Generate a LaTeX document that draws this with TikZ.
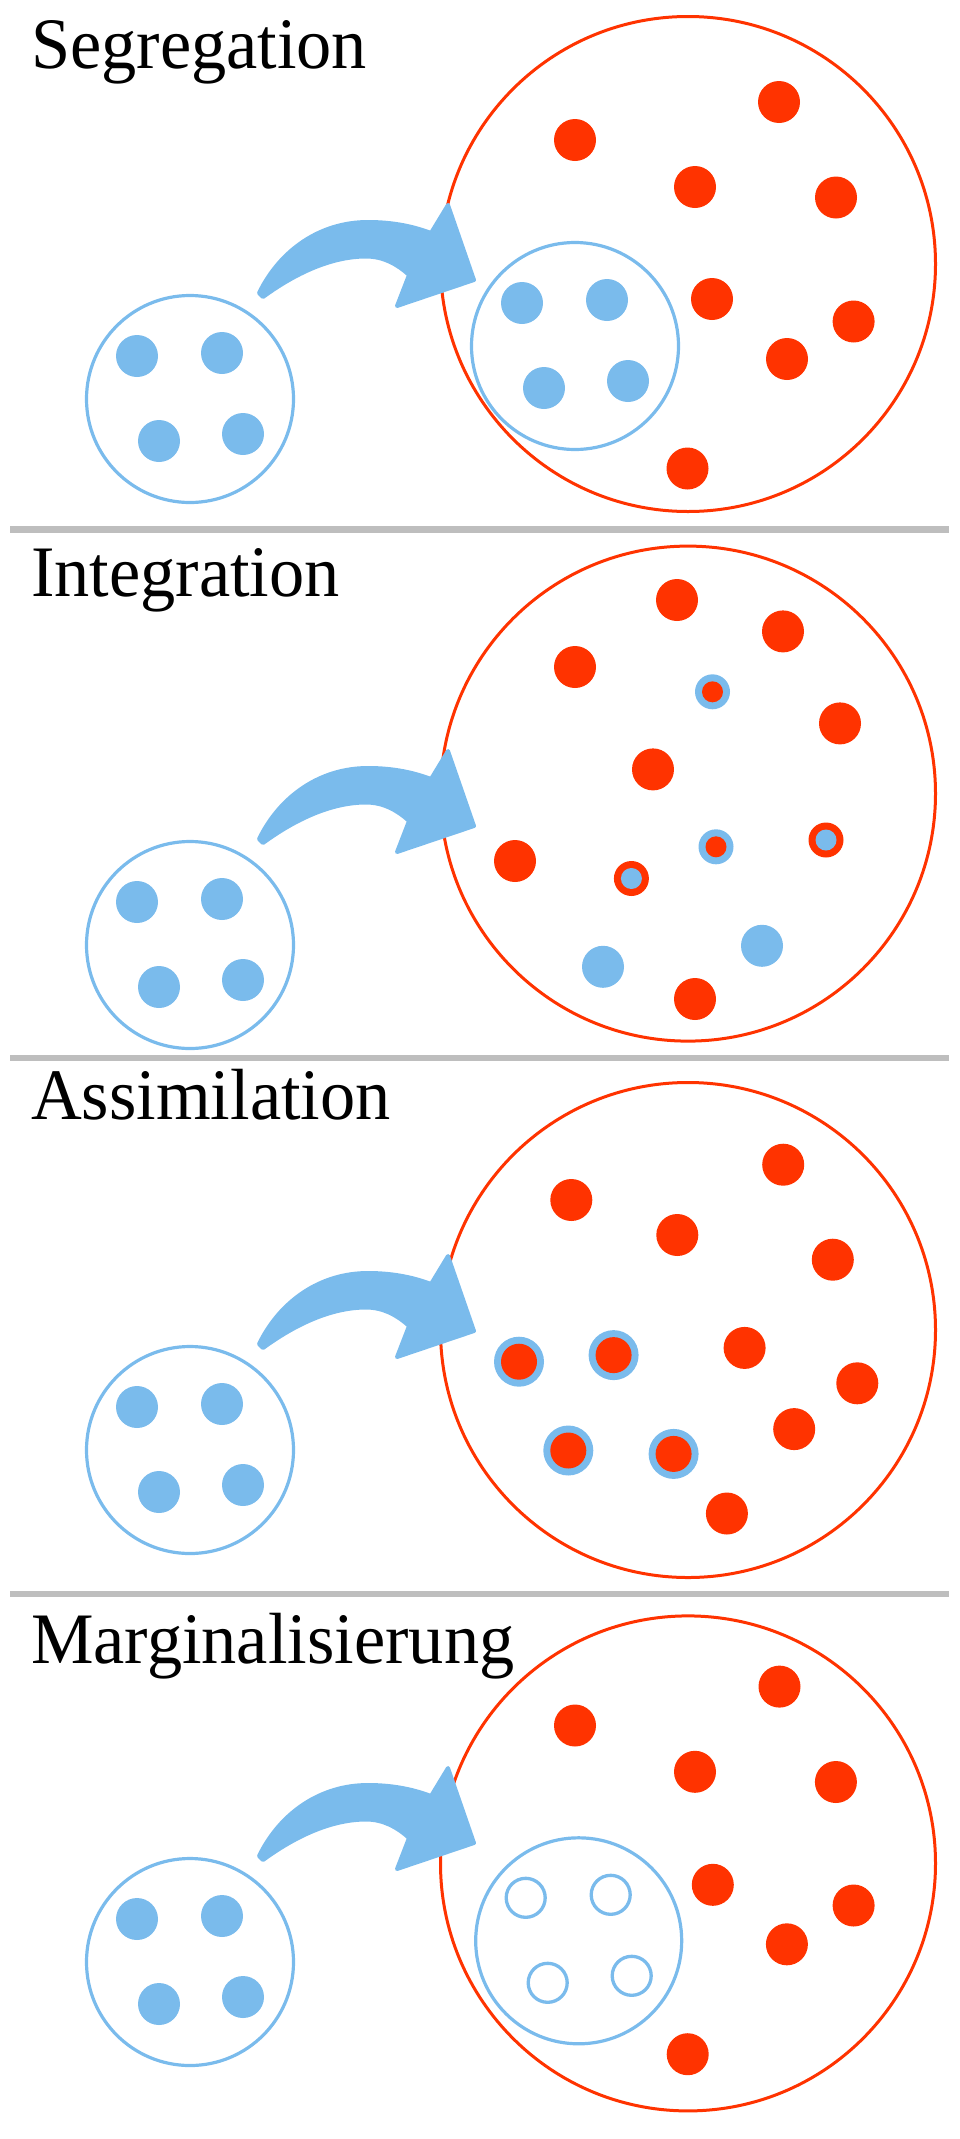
\documentclass[tikz,border=0pt]{standalone}
\usepackage{fontspec}
\setmainfont{Liberation Serif}
\definecolor{myblue}{HTML}{7ABBEC}
\definecolor{myred}{HTML}{FF3300}
\definecolor{sepgrey}{HTML}{BEBEBE}
\newcommand\ttl[1]{\scalebox{0.97}[1]{#1}}
\tikzset{
  bline/.style={draw=myblue,line width=3.2},
  rline/.style={draw=myred,line width=3},
  titletext/.style={anchor=base west,inner sep=0,font=\fontsize{72.5}{86}\selectfont},
  sepline/.style={draw=sepgrey,line width=6.5},
  bdot/.style={fill=myblue},
  rdot/.style={fill=myred},
  group/.pic={
    \draw[bline] (0,0) circle (103.5);
    \fill[bdot] (-53,-43) circle (21) (32,-46) circle (21) (-31,42) circle (21) (53,35) circle (21);
  },
  hollowgroup/.pic={
    \draw[bline] (0,0) circle (103);
    \draw[myblue,line width=3.3] (-53,-43) circle (19.5) (32,-46) circle (19.5) (-31,42) circle (19.5) (53,35) circle (19.5);
  },
  bigarrow/.pic={
    \filldraw[myblue,line width=4,line join=round]
      (69,-106) .. controls (90,-149) and (130,-177) .. (178,-177)
      .. controls (205,-177) and (225,-172) .. (241,-166)
      -- (258,-194) -- (284,-119) -- (207,-93) -- (219,-124)
      .. controls (207,-135) and (193,-142.5) .. (176,-142.5)
      .. controls (145,-142.5) and (110,-129) .. (73,-102) -- cycle;
  }
}
\begin{document}
\begin{tikzpicture}[x=1pt,y=-1pt]
\useasboundingbox (0,0) rectangle (960,2139);
% separators
\draw[sepline] (10,529.5) -- (949,529.5);
\draw[sepline] (10,1058) -- (949,1058);
\draw[sepline] (10,1594) -- (949,1594);
% titles
\node[titletext] (t1) at (31,68) {\ttl{Segregation}};
\node[titletext] (t2) at (31,596.5) {\ttl{Integration}};
\node[titletext] (t3) at (31,1119.5) {\ttl{Assimilation}};
\node[titletext] (t4) at (31,1663) {\ttl{Marginalisierung}};

% ---------- Panel 1: Segregation
\draw[rline] (688,264) circle (247.5);
\pic at (190,399) {group};
\pic at (190,399) {bigarrow};
\pic at (575,346) {group};
\fill[rdot] (575,140) circle (21) (779,102) circle (21) (695,187) circle (21)
  (836,197.5) circle (21) (712,299) circle (21) (853.6,321.5) circle (21)
  (787,359) circle (21) (687.5,468.5) circle (21);

% ---------- Panel 2: Integration
\draw[rline] (688,793.6) circle (247.5);
\pic at (190,945) {group};
\pic at (190,945) {bigarrow};
\fill[rdot] (677,600) circle (21) (783,631.4) circle (21) (575,667) circle (21)
  (840,723.4) circle (21) (653,769.4) circle (21) (515,861) circle (21)
  (695,999) circle (21);
\fill[bdot] (603,966.8) circle (21) (762,945.8) circle (21);
\fill[bdot] (712.5,691.8) circle (17.5) (716,846.8) circle (17.5);
\fill[rdot] (712.5,691.8) circle (10.5) (716,846.8) circle (10.5);
\fill[rdot] (826,840) circle (17.5) (631.4,878.5) circle (17.5);
\fill[bdot] (826,840) circle (10.5) (631.4,878.5) circle (10.5);

% ---------- Panel 3: Assimilation
\draw[rline] (688,1330) circle (247.5);
\pic at (190,1450) {group};
\pic at (190,1450) {bigarrow};
\fill[rdot] (571.3,1200) circle (21) (783.2,1164.7) circle (21) (677.3,1235) circle (21)
  (832.8,1259.7) circle (21) (744.6,1347.9) circle (21) (857.3,1383.3) circle (21)
  (794.2,1429.1) circle (21) (726.9,1513.5) circle (21);
\fill[bdot] (519,1361.7) circle (25) (613.6,1355.1) circle (25) (568.3,1450.5) circle (25) (673.6,1453.9) circle (25);
\fill[rdot] (519,1361.7) circle (18) (613.6,1355.1) circle (18) (568.3,1450.5) circle (18) (673.6,1453.9) circle (18);

% ---------- Panel 4: Marginalisierung
\draw[rline] (688,1863.4) circle (247.5);
\pic at (190,1962) {group};
\pic at (190,1962) {bigarrow};
\pic at (578.7,1940.8) {hollowgroup};
\fill[rdot] (575,1725.5) circle (21) (779.5,1686.6) circle (21) (695,1771.8) circle (21)
  (835.9,1782) circle (21) (712.8,1884.8) circle (21) (853.6,1905.5) circle (21)
  (786.9,1944.3) circle (21) (687.7,2054.2) circle (21);
\end{tikzpicture}
\end{document}
